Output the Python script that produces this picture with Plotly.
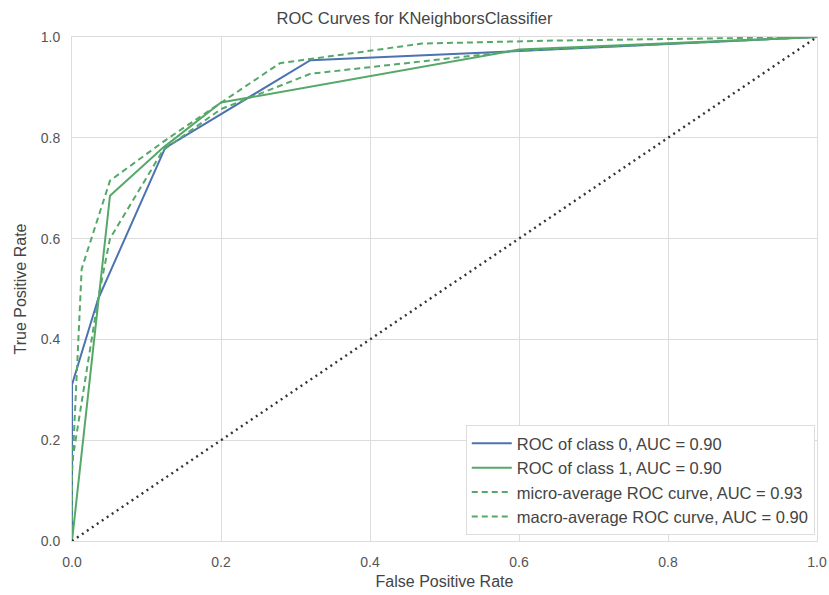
import plotly.graph_objects as go

# Data
class0_fpr = [0.0, 0.0, 0.035, 0.125, 0.32, 0.60, 1.0]
class0_tpr = [0.0, 0.31, 0.48, 0.78, 0.954, 0.972, 1.0]

class1_fpr = [0.0, 0.0, 0.051, 0.122, 0.20, 0.60, 1.0]
class1_tpr = [0.0, 0.0, 0.685, 0.78, 0.87, 0.975, 1.0]

micro_fpr = [0.0, 0.0, 0.013, 0.051, 0.13, 0.20, 0.279, 0.47, 0.65, 1.0]
micro_tpr = [0.0, 0.13, 0.54, 0.715, 0.80, 0.87, 0.948, 0.987, 0.993, 1.0]

macro_fpr = [0.0, 0.0, 0.035, 0.051, 0.122, 0.20, 0.32, 0.60, 1.0]
macro_tpr = [0.0, 0.155, 0.48, 0.60, 0.775, 0.857, 0.927, 0.973, 1.0]

diag = [0.0, 1.0]

labels = [
    "ROC of class 0, AUC = 0.90",
    "ROC of class 1, AUC = 0.90",
    "micro-average ROC curve, AUC = 0.93",
    "macro-average ROC curve, AUC = 0.90",
]
ticks = [0.0, 0.2, 0.4, 0.6, 0.8, 1.0]
tick_text = ["0.0", "0.2", "0.4", "0.6", "0.8", "1.0"]

BLUE = "#4C72B0"
GREEN = "#55A868"

fig = go.Figure()
fig.add_trace(go.Scatter(x=class0_fpr, y=class0_tpr, mode="lines", name=labels[0],
                         line=dict(color=BLUE, width=2)))
fig.add_trace(go.Scatter(x=class1_fpr, y=class1_tpr, mode="lines", name=labels[1],
                         line=dict(color=GREEN, width=2)))
fig.add_trace(go.Scatter(x=micro_fpr, y=micro_tpr, mode="lines", name=labels[2],
                         line=dict(color=GREEN, width=2, dash="6px,4px")))
fig.add_trace(go.Scatter(x=macro_fpr, y=macro_tpr, mode="lines", name=labels[3],
                         line=dict(color=GREEN, width=2, dash="6px,4px")))
fig.add_trace(go.Scatter(x=diag, y=diag, mode="lines", showlegend=False,
                         line=dict(color="#333333", width=2.4, dash="2px,4px")))

axis_common = dict(
    range=[0, 1], tickvals=ticks, ticktext=tick_text,
    showgrid=True, gridcolor="#DCDCDC", gridwidth=1,
    zeroline=False, showline=True, linecolor="#DCDCDC", mirror=True,
    ticks="outside", tickcolor="rgba(0,0,0,0)",
    tickfont=dict(size=14, color="#555555"),
    fixedrange=True, automargin=False,
)

fig.update_layout(
    width=829, height=595,
    margin=dict(l=72, r=12, t=37, b=54),
    paper_bgcolor="white", plot_bgcolor="white",
    font=dict(family="Liberation Sans, Arial, sans-serif", color="#444444"),
    title=dict(text="ROC Curves for KNeighborsClassifier", x=0.5, xanchor="center",
               y=0.97, yanchor="middle", font=dict(size=16.5, color="#444444")),
    xaxis=dict(axis_common, ticklen=8,
               title=dict(text="False Positive Rate", standoff=7,
                          font=dict(size=16, color="#444444"))),
    yaxis=dict(axis_common, ticklen=8,
               title=dict(text="True Positive Rate", standoff=10,
                          font=dict(size=16, color="#444444"))),
    legend=dict(x=0.997, y=0.012, xanchor="right", yanchor="bottom",
                bgcolor="white", bordercolor="#DDDDDD", borderwidth=1,
                font=dict(size=16.5, color="#444444"), tracegroupgap=0,
                itemwidth=40),
    showlegend=True,
)

fig.write_html("out.html")
